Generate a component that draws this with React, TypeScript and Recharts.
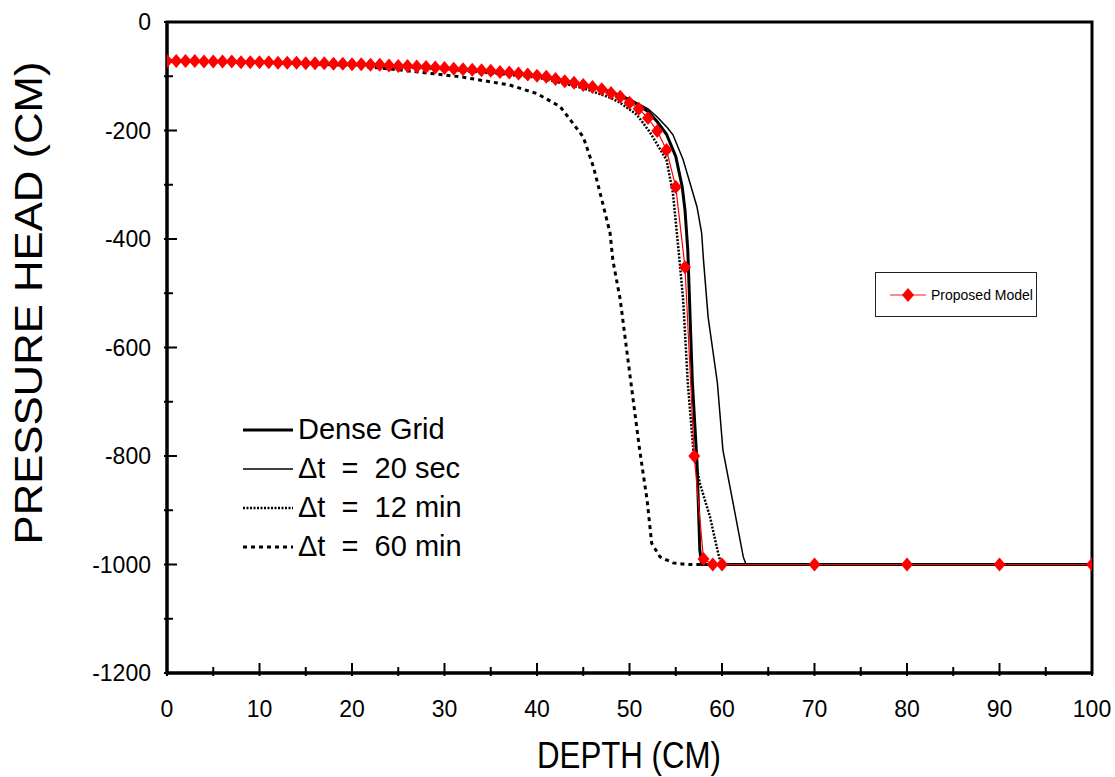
import React from "react";
import { Legend, Line, LineChart, ReferenceArea, XAxis, YAxis } from "recharts";

// depth (cm) / pressure head (cm)
const proposedDepth = [
  0, 1, 2, 3, 4, 5, 6, 7, 8, 9, 10, 11, 12, 13, 14, 15, 16, 17, 18, 19, 20, 21, 22, 23, 24, 25, 26, 27, 28, 29,
  30, 31, 32, 33, 34, 35, 36, 37, 38, 39, 40, 41, 42, 43, 44, 45, 46, 47, 48, 49, 50, 51, 52, 53, 54, 55, 56, 57,
  58, 59, 60, 70, 80, 90, 100,
];
const proposedHead = [
  -72, -72, -72, -72, -73, -73, -73, -73, -74, -74, -74, -74, -75, -75, -75, -76, -76, -76, -77, -77, -78, -78, -79,
  -79, -80, -81, -81, -82, -83, -84, -85, -86, -87, -88, -89, -90, -92, -93, -95, -97, -99, -101, -105, -109, -112,
  -116, -120, -124, -131, -138, -149, -160, -177, -201, -236, -304, -452, -800, -990, -1000, -1000, -1000, -1000,
  -1000, -1000,
];

const denseDepth = [0, 10, 20, 30, 40, 45, 48, 50, 52, 53, 54, 55, 55.7, 56, 56.3, 56.8, 57.3, 57.6, 57.8, 60, 70, 80, 90, 100];
const denseHead = [
  -72, -74, -78, -85, -99, -115, -129, -143, -165, -184, -207, -248, -304, -347, -420, -665, -813, -973, -1000, -1000,
  -1000, -1000, -1000, -1000,
];

const sec20Depth = [
  0, 10, 20, 30, 40, 45, 48, 50, 52, 53, 54.1, 54.7, 55.8, 57.3, 57.8, 58, 58.5, 59.5, 60.1, 61.2, 62.3, 62.6, 70, 80,
  90, 100,
];
const sec20Head = [
  -72, -74, -78, -85, -99, -115, -129, -142, -160, -175, -195, -208, -254, -341, -389, -439, -544, -665, -789, -887,
  -986, -1000, -1000, -1000, -1000, -1000,
];

const min12Depth = [0, 10, 20, 30, 40, 45, 48, 49, 50.8, 52.2, 54, 54.7, 55.3, 55.8, 56.3, 56.9, 57.6, 58.7, 59.5, 59.9, 70, 80, 90, 100];
const min12Head = [
  -72, -74, -79, -87, -102, -122, -140, -149, -171, -203, -254, -316, -420, -512, -665, -789, -850, -912, -973, -1000,
  -1000, -1000, -1000, -1000,
];

const min60Depth = [
  0, 10, 20, 25, 31.7, 37, 40, 42.5, 43.9, 45, 46.1, 47.1, 47.9, 48.2, 49, 49.7, 50.4, 51.1, 51.9, 52.4, 53.3, 54.7,
  56.2, 70, 80, 90, 100,
];
const min60Head = [
  -72, -74, -80, -88, -101, -116, -132, -156, -187, -212, -267, -334, -389, -439, -512, -605, -697, -789, -881, -961,
  -986, -997, -1000, -1000, -1000, -1000, -1000,
];

const xTicks = [0, 5, 10, 15, 20, 25, 30, 35, 40, 45, 50, 55, 60, 65, 70, 75, 80, 85, 90, 95, 100];
const yTicks = [0, -100, -200, -300, -400, -500, -600, -700, -800, -900, -1000, -1100, -1200];

const toPoints = (xs: number[], ys: number[]) => xs.map((depth, i) => ({ depth, head: ys[i] }));

const blackSeries = [
  { name: "Dense Grid", label: "Dense Grid", data: toPoints(denseDepth, denseHead), width: 3, dash: undefined },
  { name: "20sec", label: "\u0394t  =  20 sec", data: toPoints(sec20Depth, sec20Head), width: 1.5, dash: undefined },
  { name: "12min", label: "\u0394t  =  12 min", data: toPoints(min12Depth, min12Head), width: 2.5, dash: "2 1.5" },
  { name: "60min", label: "\u0394t  =  60 min", data: toPoints(min60Depth, min60Head), width: 3, dash: "4 4" },
];

const tickFont = "'Liberation Sans', Arial, sans-serif";

function XTick({ x, y, payload }: any) {
  const major = payload.value % 10 === 0;
  return (
    <g>
      <line x1={x} x2={x} y1={y + 3} y2={y - (major ? 10 : 6)} stroke="#000" strokeWidth={2} />
      {major && (
        <text x={x} y={y + 44} textAnchor="middle" fontSize={23} fontFamily={tickFont} fill="#000">
          {payload.value}
        </text>
      )}
    </g>
  );
}

function YTick({ x, y, payload }: any) {
  const major = payload.value % 200 === 0;
  return (
    <g>
      <line x1={x - 3} x2={x + (major ? 10 : 6)} y1={y} y2={y} stroke="#000" strokeWidth={2} />
      {major && (
        <text x={x - 16} y={y + 8} textAnchor="end" fontSize={23} fontFamily={tickFont} fill="#000">
          {payload.value}
        </text>
      )}
    </g>
  );
}

function Diamond({ cx, cy }: any) {
  if (cx == null || cy == null) return null;
  return <polygon points={`${cx},${cy - 7} ${cx + 6},${cy} ${cx},${cy + 7} ${cx - 6},${cy}`} fill="#ff0000" />;
}

function Legends() {
  return (
    <div style={{ position: "relative", width: 1115, height: 777 }}>
      <div style={{ position: "absolute", left: 243, top: 410 }}>
        {blackSeries.map((s) => (
          <div key={s.name} style={{ display: "flex", alignItems: "center", height: 39 }}>
            <svg width={52} height={10}>
              <line x1={0} x2={50} y1={5} y2={5} stroke="#000" strokeWidth={s.width} strokeDasharray={s.dash} />
            </svg>
            <span style={{ fontFamily: tickFont, fontSize: 29, color: "#000", marginLeft: 3, whiteSpace: "pre" }}>
              {s.label}
            </span>
          </div>
        ))}
      </div>
      <div
        style={{
          position: "absolute",
          left: 875,
          top: 272,
          width: 160,
          height: 43,
          border: "1px solid #222",
          display: "flex",
          alignItems: "center",
        }}
      >
        <svg width={54} height={20} style={{ marginLeft: 14 }}>
          <line x1={0} x2={36} y1={10} y2={10} stroke="#ff6666" strokeWidth={1.5} />
          <polygon points="18,3 24,10 18,17 12,10" fill="#ff0000" />
        </svg>
        <span style={{ fontFamily: tickFont, fontSize: 14, color: "#000", marginLeft: -13 }}>Proposed Model</span>
      </div>
    </div>
  );
}

export default function App() {
  return (
    <div style={{ position: "absolute", left: 0, top: 0, width: 1115, height: 777, background: "#fff" }}>
      <LineChart width={1115} height={777} margin={{ top: 22, right: 23, bottom: 0, left: 0 }}>
        <XAxis
          dataKey="depth"
          type="number"
          domain={[0, 100]}
          ticks={xTicks}
          interval={0}
          height={104}
          tickSize={0}
          tickMargin={0}
          tick={<XTick />}
          axisLine={{ stroke: "#000", strokeWidth: 3 }}
          tickLine={false}
          allowDataOverflow
          label={{
            content: () => (
              <text
                x={629}
                y={768}
                textAnchor="middle"
                fontSize={37}
                textLength={184}
                lengthAdjust="spacingAndGlyphs"
                fontFamily={tickFont}
              >
                DEPTH (CM)
              </text>
            ),
          }}
        />
        <YAxis
          dataKey="head"
          type="number"
          domain={[-1200, 0]}
          ticks={yTicks}
          interval={0}
          width={167}
          tickSize={0}
          tickMargin={0}
          tick={<YTick />}
          axisLine={{ stroke: "#000", strokeWidth: 3 }}
          tickLine={false}
          allowDataOverflow
          label={{
            content: () => (
              <text
                transform="translate(42,303) rotate(-90)"
                textAnchor="middle"
                fontSize={38}
                textLength={483}
                lengthAdjust="spacingAndGlyphs"
                fontFamily={tickFont}
              >
                PRESSURE HEAD (CM)
              </text>
            ),
          }}
        />
        <ReferenceArea x1={0} x2={100} y1={-1200} y2={0} fill="none" stroke="#000" strokeWidth={3} ifOverflow="visible" />
        {blackSeries.map((s) => (
          <Line
            key={s.name}
            name={s.name}
            data={s.data}
            dataKey="head"
            type="linear"
            stroke="#000"
            strokeWidth={s.width}
            strokeDasharray={s.dash}
            dot={false}
            activeDot={false}
            isAnimationActive={false}
          />
        ))}
        <Line
          name="Proposed Model"
          data={toPoints(proposedDepth, proposedHead)}
          dataKey="head"
          type="linear"
          stroke="#ff0000"
          strokeWidth={1.2}
          dot={(p: any) => <Diamond key={`d-${p.index}`} {...p} />}
          activeDot={false}
          isAnimationActive={false}
        />
        <Legend
          layout="vertical"
          align="center"
          verticalAlign="middle"
          wrapperStyle={{ left: 0, top: 0, width: 1115, height: 777, pointerEvents: "none" }}
          content={() => <Legends />}
        />
      </LineChart>
    </div>
  );
}
